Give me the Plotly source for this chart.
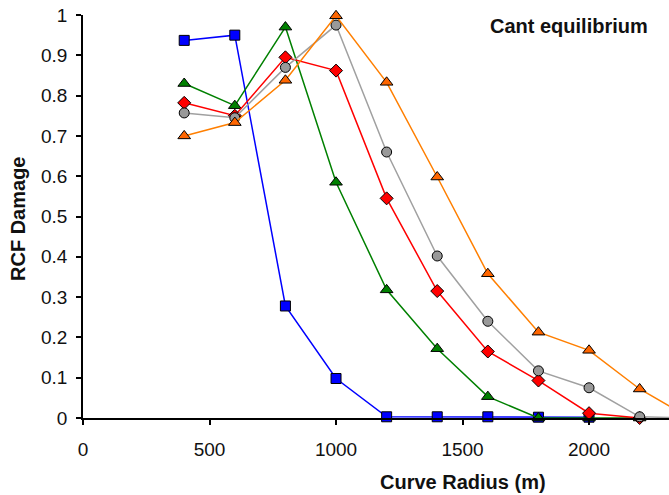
import plotly.graph_objects as go

radius = [400, 600, 800, 1000, 1200, 1400, 1600, 1800, 2000, 2200, 2400]

blue_sq = [0.937, 0.950, 0.278, 0.098, 0.003, 0.003, 0.003, 0.002, 0.002]
green_tri = [0.830, 0.775, 0.970, 0.585, 0.318, 0.172, 0.053, 0.0, 0.0, 0.0]
red_dia = [0.782, 0.750, 0.895, 0.862, 0.545, 0.315, 0.165, 0.093, 0.012, 0.0]
grey_circ = [0.757, 0.745, 0.870, 0.975, 0.660, 0.402, 0.240, 0.117, 0.075, 0.003, 0.0]
orange_tri = [0.700, 0.733, 0.838, 0.998, 0.833, 0.598, 0.358, 0.213, 0.168, 0.072, 0.0]

series = [
    (blue_sq, "#0000FF", "#0000FF", "square", 10),
    (green_tri, "#008000", "#008000", "triangle-up", 11),
    (red_dia, "#FF0000", "#FF0000", "diamond", 10),
    (grey_circ, "#A0A0A0", "#999999", "circle", 10),
    (orange_tri, "#FF7F00", "#FF6600", "triangle-up", 11),
]

font_family = "Liberation Sans, Arial, sans-serif"

fig = go.Figure()
for vals, lc, mc, sym, sz in series:
    fig.add_trace(go.Scatter(
        x=radius[:len(vals)], y=vals, mode="lines+markers",
        line=dict(color=lc, width=1.5),
        marker=dict(symbol=sym, size=sz, color=mc, line=dict(color="black", width=1)),
        cliponaxis=False, showlegend=False,
    ))

fig.update_layout(
    width=669, height=495,
    margin=dict(l=83, r=0, t=15, b=77),
    paper_bgcolor="white", plot_bgcolor="white",
    font=dict(family=font_family, size=19, color="#111111"),
    xaxis=dict(
        range=[0, 2316], tickmode="linear", tick0=0, dtick=500,
        showgrid=False, zeroline=False,
        showline=True, linecolor="black", linewidth=1.5,
        ticks="outside", ticklen=5, tickcolor="black", tickwidth=1.5,
        tickfont=dict(size=19), ticklabelstandoff=8,
    ),
    yaxis=dict(
        range=[0, 1], tickmode="linear", tick0=0, dtick=0.1,
        showgrid=False, zeroline=False,
        showline=True, linecolor="black", linewidth=1.5,
        ticks="outside", ticklen=5, tickcolor="black", tickwidth=1.5,
        tickfont=dict(size=19), ticklabelstandoff=5,
    ),
    annotations=[
        dict(text="<b>Curve Radius (m)</b>", x=1500, xref="x", y=(418 - 482) / 403, yref="paper",
             yanchor="middle", xanchor="center", showarrow=False, font=dict(size=20)),
        dict(text="<b>Cant equilibrium</b>", x=(569 - 83) / 586, xref="paper",
             y=(418 - 26) / 403, yref="paper", xanchor="center", yanchor="middle",
             showarrow=False, font=dict(size=20)),
        dict(text="<b>RCF Damage</b>", x=(18 - 83) / 586, xref="paper",
             y=(418 - 219) / 403, yref="paper", xanchor="center", yanchor="middle",
             textangle=-90, showarrow=False, font=dict(size=20)),
    ],
)

fig.write_html("out.html")
